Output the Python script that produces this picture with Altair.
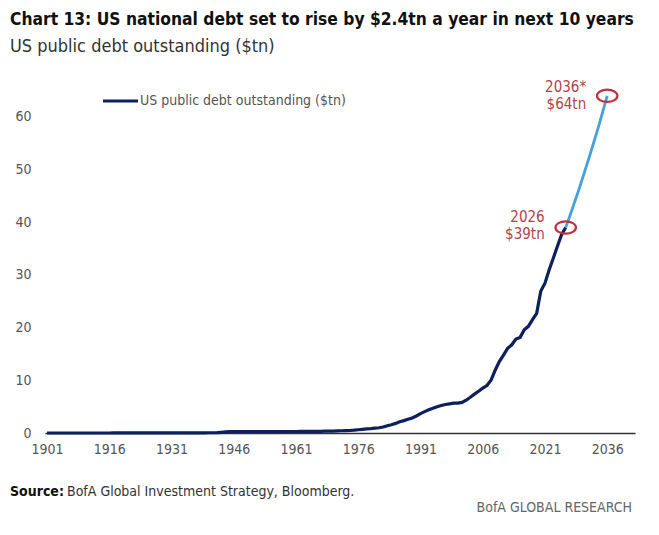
import altair as alt
import pandas as pd

# US public debt outstanding ($tn), end of year
hist_years = list(range(1901, 2027))
hist_debt = [
    0.002, 0.002, 0.002, 0.002, 0.002, 0.002, 0.002, 0.002, 0.003, 0.003,   # 1901-1910
    0.003, 0.003, 0.003, 0.003, 0.003, 0.003, 0.006, 0.013, 0.026, 0.024,   # 1911-1920
    0.024, 0.023, 0.022, 0.021, 0.021, 0.020, 0.019, 0.018, 0.017, 0.016,   # 1921-1930
    0.017, 0.020, 0.023, 0.027, 0.029, 0.034, 0.036, 0.037, 0.040, 0.043,   # 1931-1940
    0.049, 0.073, 0.136, 0.201, 0.259, 0.269, 0.258, 0.252, 0.253, 0.257,   # 1941-1950
    0.255, 0.259, 0.266, 0.271, 0.274, 0.273, 0.271, 0.276, 0.285, 0.286,   # 1951-1960
    0.289, 0.298, 0.306, 0.312, 0.317, 0.320, 0.326, 0.348, 0.354, 0.371,   # 1961-1970
    0.398, 0.427, 0.458, 0.475, 0.533, 0.620, 0.699, 0.772, 0.827, 0.908,   # 1971-1980
    0.998, 1.142, 1.377, 1.572, 1.823, 2.125, 2.350, 2.602, 2.857, 3.233,   # 1981-1990
    3.665, 4.065, 4.411, 4.693, 4.974, 5.225, 5.413, 5.526, 5.656, 5.674,   # 1991-2000
    5.807, 6.228, 6.783, 7.379, 7.933, 8.507, 9.008, 10.025, 11.910, 13.562,  # 2001-2010
    14.790, 16.066, 16.738, 17.824, 18.151, 19.573, 20.245, 21.516, 22.719, 26.945,  # 2011-2020
    28.429, 30.929, 33.167, 35.464, 37.640, 39.000,                          # 2021-2026
]

# Projection to 2036
proj_years = list(range(2026, 2037))
proj_debt = [39.0, 41.2, 43.5, 45.8, 48.2, 50.7, 53.2, 55.8, 58.4, 61.2, 64.0]

# Highlighted points and their labels
mark_years = [2026, 2036]
mark_debt = [39.0, 64.0]
label_years = [2026, 2026, 2036, 2036]
label_debt = [39.0, 39.0, 64.0, 64.0]
label_text = ["2026", "$39tn", "2036*", "$64tn"]
label_dy = [-11, 6, -9, 8]

x_ticks = [1901, 1916, 1931, 1946, 1961, 1976, 1991, 2006, 2021, 2036]
y_ticks = [0, 10, 20, 30, 40, 50, 60]

NAVY = "#0d1f5c"
LIGHT = "#45a2dc"
RED = "#c0303f"
RED_TEXT = "#b3424e"
GREY = "#555555"
FONT = "DejaVu Sans Condensed, Liberation Sans, sans-serif"

hist = pd.DataFrame({"year": hist_years, "debt": hist_debt})
proj = pd.DataFrame({"year": proj_years, "debt": proj_debt})
marks = pd.DataFrame({"year": mark_years, "debt": mark_debt})
labels = pd.DataFrame({"year": label_years, "debt": label_debt,
                       "text": label_text, "dy": label_dy})

x_scale = alt.Scale(domain=[1900.5, 2042.7], nice=False, zero=False)
y_scale = alt.Scale(domain=[0, 67], nice=False)

x_enc = alt.X("year:Q", scale=x_scale, title=None,
              axis=alt.Axis(values=x_ticks, format="d", grid=False, ticks=False,
                            domainColor="#333333", domainWidth=1.6,
                            labelColor=GREY, labelFontSize=14, labelFont=FONT,
                            labelPadding=9, labelFlush=False))
y_enc = alt.Y("debt:Q", scale=y_scale, title=None,
              axis=alt.Axis(values=y_ticks, grid=False, ticks=False, domain=False,
                            labelColor=GREY, labelFontSize=14, labelFont=FONT,
                            labelPadding=14))

hist_line = alt.Chart(hist).mark_line(color=NAVY, strokeWidth=3.2).encode(x=x_enc, y=y_enc)
proj_line = alt.Chart(proj).mark_line(color=LIGHT, strokeWidth=2.8).encode(
    x=alt.X("year:Q", scale=x_scale), y=alt.Y("debt:Q", scale=y_scale))

ellipse = "M -1 0 A 1 0.6 0 1 0 1 0 A 1 0.6 0 1 0 -1 0 Z"
rings = alt.Chart(marks).mark_point(shape=ellipse, size=420, filled=False,
                                    stroke=RED, strokeWidth=2.2, opacity=1).encode(
    x=alt.X("year:Q", scale=x_scale), y=alt.Y("debt:Q", scale=y_scale))

ann_layers = []
for i in range(len(label_text)):
    row = labels.iloc[[i]]
    ann_layers.append(
        alt.Chart(row).mark_text(align="right", baseline="middle", dx=-21,
                                 dy=int(label_dy[i]), font=FONT, fontSize=15,
                                 color=RED_TEXT).encode(
            x=alt.X("year:Q", scale=x_scale), y=alt.Y("debt:Q", scale=y_scale),
            text="text:N"))


def static_text(s, x, y, size, color, weight="normal", align="left"):
    return alt.Chart(pd.DataFrame({"t": [s]})).mark_text(
        align=align, baseline="middle", font=FONT, fontSize=size,
        fontWeight=weight, color=color).encode(
        x=alt.value(x), y=alt.value(y), text="t:N")


title = static_text("Chart 13: US national debt set to rise by $2.4tn a year in next 10 years",
                    -35, -60, 17.3, "#111111", weight="bold")
subtitle = static_text("US public debt outstanding ($tn)", -35, -33, 18, "#333333")
legend_label = static_text("US public debt outstanding ($tn)", 95, 21, 14, GREY)
legend_swatch = alt.Chart(pd.DataFrame({"t": [0]})).mark_rule(
    color=NAVY, strokeWidth=3.2).encode(x=alt.value(58), x2=alt.value(93), y=alt.value(21))
source_bold = static_text("Source:", -35, 412, 14, "#111111", weight="bold")
source_rest = static_text("BofA Global Investment Strategy, Bloomberg.", 22, 412, 14, "#333333")
brand = static_text("BofA GLOBAL RESEARCH", 587, 428, 14, "#666666", align="right")

chart = alt.layer(
    hist_line, proj_line, rings, *ann_layers,
    title, subtitle, legend_swatch, legend_label, source_bold, source_rest, brand
).properties(
    width=590, height=353,
    autosize=alt.AutoSizeParams(type="none"),
    padding={"left": 45, "top": 80, "right": 24, "bottom": 102},
    background="white",
).configure_view(stroke=None)

chart.save("out.html", embed_options={"renderer": "svg", "actions": False})
